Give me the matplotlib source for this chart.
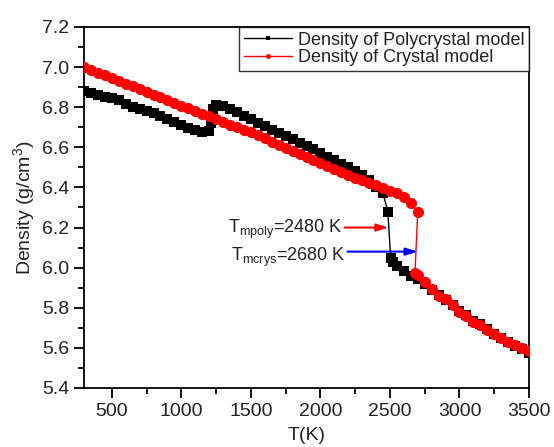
import matplotlib
matplotlib.use("Agg")
import matplotlib.pyplot as plt
from matplotlib.ticker import MultipleLocator

plt.rcParams['font.family'] = ['Liberation Sans', 'DejaVu Sans']
plt.rcParams['mathtext.default'] = 'regular'

# Polycrystal model (black squares)
T_poly = [300, 350, 400, 450, 500, 550, 600, 650, 700, 750, 800, 850, 900, 950,
          1000, 1050, 1100, 1150, 1200, 1215, 1230, 1250, 1300, 1350, 1400, 1450,
          1500, 1550, 1600, 1650, 1700, 1750, 1800, 1850, 1900, 1950, 2000, 2050,
          2100, 2150, 2200, 2250, 2300, 2350, 2400, 2450, 2485, 2505, 2520, 2550,
          2600, 2650, 2700, 2750, 2800, 2850, 2900, 2950, 3000, 3050, 3100, 3150,
          3200, 3250, 3300, 3350, 3400, 3450, 3500]
D_poly = [6.882, 6.872, 6.862, 6.852, 6.845, 6.835, 6.818, 6.800, 6.793, 6.782,
          6.770, 6.755, 6.742, 6.725, 6.710, 6.698, 6.685, 6.676, 6.683, 6.720,
          6.790, 6.810, 6.805, 6.790, 6.775, 6.757, 6.740, 6.722, 6.705, 6.688,
          6.670, 6.656, 6.640, 6.622, 6.605, 6.590, 6.570, 6.552, 6.535, 6.518,
          6.500, 6.480, 6.460, 6.435, 6.400, 6.370, 6.280, 6.050, 6.030, 6.010,
          5.985, 5.960, 5.945, 5.920, 5.890, 5.865, 5.840, 5.815, 5.785, 5.765,
          5.735, 5.720, 5.695, 5.670, 5.650, 5.630, 5.610, 5.595, 5.575]

# Crystal model (red circles)
T_crys = [300, 350, 400, 450, 500, 550, 600, 650, 700, 750, 800, 850, 900, 950,
          1000, 1050, 1100, 1150, 1200, 1250, 1300, 1350, 1400, 1450, 1500, 1550,
          1600, 1650, 1700, 1750, 1800, 1850, 1900, 1950, 2000, 2050, 2100, 2150,
          2200, 2250, 2300, 2350, 2400, 2450, 2500, 2550, 2600, 2650, 2700, 2680,
          2700, 2750, 2800, 2850, 2900, 2950, 3000, 3050, 3100, 3150, 3200, 3250,
          3300, 3350, 3400, 3450, 3500]
D_crys = [7.000, 6.987, 6.973, 6.960, 6.946, 6.932, 6.918, 6.904, 6.890, 6.877,
          6.863, 6.850, 6.836, 6.822, 6.808, 6.795, 6.781, 6.768, 6.754, 6.740,
          6.727, 6.713, 6.700, 6.688, 6.675, 6.660, 6.645, 6.628, 6.610, 6.595,
          6.580, 6.565, 6.550, 6.535, 6.520, 6.505, 6.490, 6.475, 6.460, 6.448,
          6.435, 6.422, 6.410, 6.395, 6.380, 6.370, 6.350, 6.320, 6.280, 5.975,
          5.965, 5.930, 5.895, 5.860, 5.845, 5.815, 5.780, 5.760, 5.730, 5.715,
          5.690, 5.670, 5.650, 5.630, 5.615, 5.600, 5.585]

x_ticks = [500, 1000, 1500, 2000, 2500, 3000, 3500]
y_ticks = [5.4, 5.6, 5.8, 6.0, 6.2, 6.4, 6.6, 6.8, 7.0, 7.2]

fig = plt.figure(figsize=(5.54, 4.47), dpi=100)
ax = fig.add_axes([0.1516, 0.132, 0.8033, 0.8076])

txt = '#222222'
ax.plot(T_poly, D_poly, color='black', lw=1.0, marker='s', ms=6.8,
        markeredgewidth=0, label='Density of Polycrystal model', zorder=2)
ax.plot(T_crys, D_crys, color='#ff0000', lw=1.0, marker='o', ms=8.0,
        markeredgewidth=0, label='Density of Crystal model', zorder=3)

ax.set_xlim(300, 3500)
ax.set_ylim(5.4, 7.2)
ax.set_xticks(x_ticks)
ax.set_yticks(y_ticks)
ax.set_yticklabels([f'{v:.1f}' for v in y_ticks])
ax.xaxis.set_minor_locator(MultipleLocator(250))
ax.yaxis.set_minor_locator(MultipleLocator(0.1))
ax.tick_params(which='major', direction='out', length=7, width=1.3,
               labelsize=14, labelcolor=txt, top=False, right=False)
ax.tick_params(which='minor', direction='out', length=4, width=1.3,
               top=False, right=False)
for s in ax.spines.values():
    s.set_linewidth(1.3)

ax.set_xlabel('T(K)', fontsize=14, color=txt, labelpad=5)
ax.set_ylabel('Density (g/cm$^3$)', fontsize=14, color=txt, labelpad=4)

leg = ax.legend(loc='upper right', fontsize=13, frameon=True, fancybox=False,
                edgecolor='black', borderaxespad=0, handlelength=2.7,
                handletextpad=0.3, borderpad=0.25, labelspacing=0.05, markerscale=0.45)
leg.get_frame().set_linewidth(1.0)
for t in leg.get_texts():
    t.set_color(txt)

ax.annotate('', xy=(2490, 6.20), xytext=(2175, 6.20),
            arrowprops=dict(arrowstyle='-|>,head_length=0.7,head_width=0.22',
                            color='#ff0000', lw=1.5, shrinkA=0, shrinkB=0))
ax.annotate('', xy=(2700, 6.08), xytext=(2195, 6.08),
            arrowprops=dict(arrowstyle='-|>,head_length=0.7,head_width=0.22',
                            color='#0000ff', lw=1.5, shrinkA=0, shrinkB=0))
ax.text(2160, 6.173, 'T$_{mpoly}$=2480 K', ha='right', va='baseline',
        fontsize=13, color=txt)
ax.text(2180, 6.033, 'T$_{mcrys}$=2680 K', ha='right', va='baseline',
        fontsize=13, color=txt)

fig.savefig('out.png', dpi=100)
